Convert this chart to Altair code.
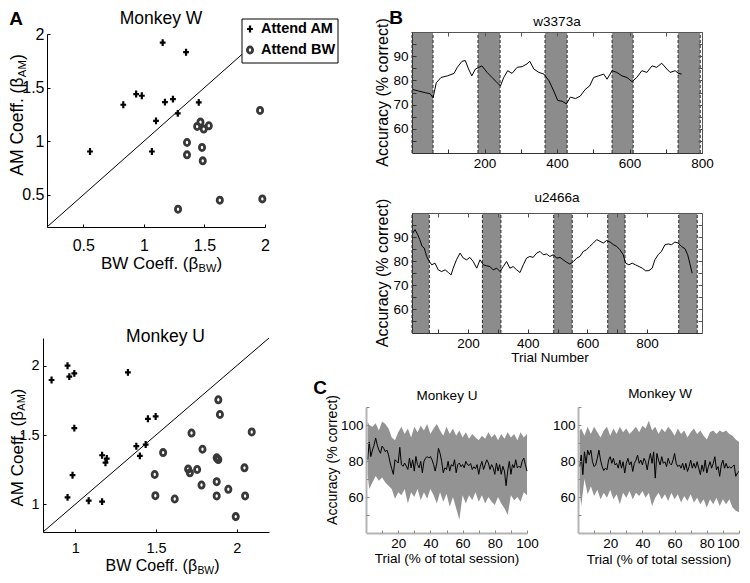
import altair as alt
import pandas as pd

W, H = 734, 567
M = 8


def P(v):
    return v - M


FONT = "Liberation Sans, Arial, sans-serif"

# ---------------- Panel A data ----------------
w_am_bw = [0.555, 0.83, 0.936, 0.983, 1.155, 1.348, 1.174, 1.24, 1.10, 1.28, 1.066, 1.453]
w_am_am = [0.904, 1.34, 1.44, 1.424, 1.92, 1.83, 1.365, 1.393, 1.19, 1.26, 0.904, 1.362]
w_bw_bw = [1.959, 1.44, 1.467, 1.494, 1.536, 1.356, 1.356, 1.48, 1.486, 1.282, 1.627, 1.978]
w_bw_am = [1.287, 1.138, 1.178, 1.113, 1.144, 0.988, 0.873, 0.942, 0.817, 0.366, 0.45, 0.462]

u_am_bw = [0.853, 0.952, 0.963, 0.994, 1.326, 0.994, 0.983, 0.952, 1.083, 1.166, 1.166, 1.195,
           1.187, 1.45, 1.498, 1.378, 1.436, 1.40]
u_am_am = [1.897, 2.0, 1.921, 1.945, 1.952, 1.55, 1.21, 1.05, 1.026, 1.019, 1.354, 1.33,
           1.30, 1.617, 1.634, 1.419, 1.431, 1.349]
u_bw_bw = [1.886, 1.896, 2.093, 1.72, 1.788, 1.544, 1.876, 1.886, 1.699, 1.710, 1.755, 1.492,
           2.048, 1.782, 1.876, 1.948, 1.496, 1.616, 1.876, 2.052, 1.994]
u_bw_am = [1.754, 1.648, 1.522, 1.514, 1.397, 1.373, 1.335, 1.323, 1.254, 1.227, 1.251, 1.215,
           1.263, 1.139, 1.163, 1.108, 1.062, 1.038, 1.06, 1.06, 0.911]

diag_w = [0.2, 2.0]
diag_u = [0.8, 2.2]

# ---------------- Panel B data ----------------
b1_x = [0, 18, 37, 50, 58, 67, 80, 98, 116, 125, 138, 147, 156, 165, 175, 193, 207, 221, 235, 244,
        253, 264, 276, 290, 304, 317, 325, 336, 350, 364, 378, 391, 402, 414, 426, 437, 451, 464, 478, 490,
        501, 515, 529, 538, 552, 565, 579, 593, 607, 620, 634, 648, 662, 675, 689, 703, 712, 726, 735, 744]
b1_y = [76.3, 75.6, 74.9, 74.5, 72.8, 79, 81.2, 81.9, 82.9, 85.4, 87.9, 88.2, 84.7, 81.9, 84.7, 86, 83.3, 81.2, 79, 77.7,
        81.2, 84, 82.9, 85.4, 85.7, 86.8, 87.9, 84.7, 83.3, 82.6, 79.8, 75.6, 71.7, 71.4, 70.3, 73.1, 72.5, 73.5, 76.3, 77.7,
        81.2, 81.9, 82.6, 80.5, 84, 83.3, 81.9, 81.2, 79.5, 81.2, 84, 83.3, 86, 85.4, 87.1, 84.7, 83.3, 84, 82.9, 82.6]
b1_start = [0, 182, 367, 552, 734]
b1_end = [58, 243, 428, 610, 795]

b2_x = [13, 22, 31, 38, 46, 53, 61, 69, 78, 89, 100, 111, 123, 134, 143, 150, 161, 173, 184, 195,
        206, 217, 229, 240, 251, 262, 273, 284, 296, 307, 318, 329, 340, 351, 363, 374, 385, 396, 407, 418,
        430, 441, 452, 463, 474, 486, 497, 508, 519, 530, 541, 553, 564, 575, 586, 597, 608, 620, 631, 642,
        653, 664, 676, 687, 698, 709, 720, 728, 739, 750, 761, 773, 784, 795, 806, 817, 826, 837, 848, 860,
        871, 882, 893, 904, 915, 927, 936, 943, 951]
b2_y = [91.3, 93.1, 91, 88.9, 86.1, 85.4, 81.9, 80, 78.4, 79.1, 76.3, 75.6, 76.3, 75.2, 74.2, 77, 80.5, 83.3, 81.2, 80.5,
        81.5, 79.8, 77, 80.5, 78.4, 78, 77.7, 76.3, 77, 75.6, 77.7, 79.8, 77, 77.7, 76.3, 75.2, 78.4, 81.2, 81.9, 81.5,
        83.3, 84, 82.6, 82.9, 81.9, 82.6, 81.2, 81.5, 80.5, 79.5, 78.7, 79.8, 81.2, 81.9, 84, 84.7, 86.1, 87.5, 88.9, 88.2,
        87.5, 88.5, 87.9, 86.8, 86.1, 84.7, 82.6, 79.1, 78.4, 79.1, 78.4, 77.7, 77, 75.9, 76, 77, 80.5, 82.6, 84, 86.8,
        87.1, 86.8, 87.9, 87.5, 86.1, 85.1, 82.6, 79.1, 74.9]
b2_start = [12, 248, 487, 668, 906]
b2_end = [70, 310, 549, 726, 968]

# ---------------- Panel C data ----------------
c_x = list(range(1, 101))
cu_mean = [80.7, 90.6, 82.5, 86.1, 88.8, 92.8, 88.8, 86.1, 84.3, 88.3,
           87, 85.2, 86.1, 83.4, 78.9, 75.7, 72.6, 80.7, 79.8, 78.9,
           87.6, 78, 77.1, 78.9, 77.1, 75.3, 81.6, 76.2, 80.7, 74.4,
           82.5, 78, 76.2, 79.8, 73.5, 79.8, 81.6, 82.5, 81.6, 82.5,
           80.7, 78, 74.4, 78.9, 87, 84.3, 79.8, 73.5, 76.2, 75.3,
           79.8, 74.4, 78, 77.1, 80.7, 73.5, 78, 78.9, 76.8, 78,
           76.2, 79.8, 78, 77.5, 78.6, 75.3, 76.8, 75.7, 78, 72.6,
           77.1, 79.8, 75.3, 78, 80.7, 78.9, 75.3, 78, 76.2, 72.6,
           78.9, 74.4, 78, 72.6, 77.1, 74.4, 66.3, 74.4, 79.8, 72.6,
           78, 76.2, 80.7, 76.2, 77.1, 76.2, 79.8, 81.6, 78, 74.4]
cw_mean = [76.9, 83.3, 72.4, 85.1, 78.7, 86, 83.3, 86, 79.6, 76.9,
           77.8, 81.5, 86, 80.5, 76.9, 74.7, 76, 75.1, 80.5, 82.4,
           78.7, 81.5, 77.8, 78.7, 76, 80.5, 76, 79.6, 73.3, 78.7,
           81.5, 77.8, 79.6, 74.2, 78.7, 80.5, 83.3, 78.7, 80.5, 77.8,
           81.5, 79.6, 75.1, 80.5, 84.2, 78.7, 85.1, 70.5, 84.2, 80.5,
           77.8, 82.4, 78.7, 79.6, 76.9, 81.5, 78.7, 77.8, 80.5, 84.2,
           78.7, 76.9, 77.8, 76, 78.7, 75.1, 78.7, 74.2, 76.9, 80.5,
           76, 78.7, 76, 79.6, 76, 72.4, 77.8, 74.2, 80.5, 73.3,
           76.9, 79.6, 76, 78.7, 82.4, 75.1, 76.9, 71.5, 77.8, 80.5,
           76, 78.7, 76, 76.9, 76, 76.9, 77.8, 71.5, 73.3, 74.2]
band_x = [1, 2, 4, 6, 8, 10, 12, 14, 16, 18, 20, 22, 24, 26, 28, 30, 32, 34, 36, 38,
          40, 42, 44, 46, 48, 50, 52, 54, 56, 58, 60, 62, 64, 66, 68, 70, 72, 74, 76, 78,
          80, 82, 84, 86, 88, 90, 92, 94, 96, 98, 100]
cu_hi = [102, 100, 99, 101, 97, 102, 100.5, 98, 93, 91.5, 96, 99, 95, 98, 93, 99, 96, 99.6, 97, 100.5,
         95, 98, 100.5, 97, 94, 99, 95, 98, 94, 97, 93, 96, 92.4, 95, 93, 91.5, 94, 92.4, 96, 93,
         95, 91.5, 95, 92.4, 96, 93, 95, 91.5, 96, 93, 95]
cu_lo = [72.6, 64.5, 68, 71.7, 69, 70.8, 68, 66.3, 64.5, 59, 62.7, 61, 64.5, 56.4, 62.7, 60, 64.5, 58.2, 62.7, 59,
         64.5, 61, 56.4, 62.7, 57.3, 61.8, 54.6, 60, 53.7, 47.4, 61, 56.4, 61, 58.2, 62.7, 57.3, 61, 56.4, 60, 57.3,
         55.5, 60, 56.4, 53.7, 50, 61, 58.2, 60, 57.3, 62.7, 61]
cw_hi = [97, 98, 94, 99, 95, 99, 96, 93, 97, 99, 94, 98, 95, 99, 96, 98, 95, 97, 99, 96,
         99.6, 98, 102.4, 97, 99, 95, 98, 96, 99, 97, 94, 98, 95, 97, 93, 96, 98, 95, 97, 94,
         92, 96, 97, 95, 97, 96, 97, 95, 94, 92, 90.5]
cw_lo = [64, 55, 70, 61.5, 66, 60.5, 64, 58.7, 62.4, 59.6, 64, 58.7, 61.5, 56, 62.4, 59.6, 63.3, 58.7, 62.4, 60.5,
         63.3, 59.6, 62.4, 55, 59.6, 62.4, 58.7, 61.5, 57.8, 62.4, 58.7, 61.5, 56.9, 60.5, 57.8, 61.5, 56.9, 59.6, 56, 58.7,
         54.2, 58.7, 56, 59.6, 55, 58.7, 56, 58.7, 54.2, 52.4, 51.5]

# ---------------- helpers ----------------
CROSS = "M-0.42,-0.16H-0.16V-0.5H0.16V-0.16H0.42V0.16H0.16V0.5H-0.16V0.16H-0.42Z"
ELLIPSE = "M0,-0.5A0.42,0.5 0 1,1 0,0.5A0.42,0.5 0 1,1 0,-0.5Z"
CROSS_SIZE = 190
CIRC_SIZE = 155
CIRC_W = 2.8
CIRC_COLOR = "#383838"

# approximate Arial / Liberation Sans advance widths (em)
AW = {"A": .667, "B": .667, "C": .722, "M": .833, "W": .944, " ": .278, "o": .556, "e": .556,
      "f": .278, ".": .278, "(": .333, ")": .333, "\u03b2": .576}


def tw(s, size):
    return sum(AW[c] for c in s) * size


def sc(dom, rng):
    return alt.Scale(domain=dom, range=[P(rng[0]), P(rng[1])], nice=False, zero=False)


def axis_layer(ch, dom, rng, pos, orient, values, labels=False, ticks=False, domain=False,
               tick_size=4, color="black", width=1, label_size=14, pad=4, flush=False):
    if orient == "bottom":
        off = P(pos) - H
    elif orient == "top":
        off = -P(pos)
    elif orient == "left":
        off = -P(pos)
    else:
        off = P(pos) - W
    kw = dict(orient=orient, offset=off, title=None, grid=False, labels=labels, ticks=ticks,
              domain=domain, labelFlush=flush, labelOverlap=False, zindex=1, values=values,
              tickSize=tick_size if ticks else 0)
    if labels:
        kw.update(labelFont=FONT, labelFontSize=label_size, labelColor="black", labelPadding=pad,
                  labelExpr="'' + datum.value")
    if ticks:
        kw.update(tickColor=color, tickWidth=1)
    if domain:
        kw.update(domainColor=color, domainWidth=width)
    df = pd.DataFrame({"v": dom})
    if ch == "x":
        enc = {"x": alt.X("v:Q", scale=sc(dom, rng), axis=alt.Axis(**kw))}
    else:
        enc = {"y": alt.Y("v:Q", scale=sc(dom, rng), axis=alt.Axis(**kw))}
    return alt.Chart(df).mark_point(opacity=0).encode(**enc)


def text(x, y, s, size, angle=0, weight="normal", align="center"):
    return alt.Chart(pd.DataFrame({"t": [s]})).mark_text(
        fontSize=size, font=FONT, angle=angle, fontWeight=weight, align=align,
        baseline="middle", color="black").encode(
        x=alt.value(P(x)), y=alt.value(P(y)), text="t:N")


layers = []

# ================= Panel A =================
XA1 = ([0.2, 2.0], (47, 265))
YA1 = ([0.2, 2.0], (227, 34))
XA2 = ([0.8, 2.2], (43, 269))
YA2 = ([0.8, 2.2], (532, 338))


def scatter_panel(sx, sy, diag, am_bw, am_am, bw_bw, bw_am):
    out = []
    out.append(alt.Chart(pd.DataFrame({"x": diag, "y": diag})).mark_line(
        color="black", strokeWidth=1).encode(
        x=alt.X("x:Q", scale=sc(*sx), axis=None), y=alt.Y("y:Q", scale=sc(*sy), axis=None)))
    out.append(alt.Chart(pd.DataFrame({"x": am_bw, "y": am_am})).mark_point(
        shape=CROSS, filled=True, color="black", size=CROSS_SIZE, opacity=1).encode(
        x=alt.X("x:Q", scale=sc(*sx), axis=None), y=alt.Y("y:Q", scale=sc(*sy), axis=None)))
    out.append(alt.Chart(pd.DataFrame({"x": bw_bw, "y": bw_am})).mark_point(
        shape=ELLIPSE, filled=False, color=CIRC_COLOR, strokeWidth=CIRC_W, size=CIRC_SIZE, opacity=1).encode(
        x=alt.X("x:Q", scale=sc(*sx), axis=None), y=alt.Y("y:Q", scale=sc(*sy), axis=None)))
    return out


layers += scatter_panel(XA1, YA1, diag_w, w_am_bw, w_am_am, w_bw_bw, w_bw_am)
layers += scatter_panel(XA2, YA2, diag_u, u_am_bw, u_am_am, u_bw_bw, u_bw_am)

# legend (panel A top)
layers.append(alt.Chart(pd.DataFrame({"k": [0]})).mark_rect(
    fill="white", stroke="black", strokeWidth=1).encode(
    x=alt.value(P(242)), x2=alt.value(P(338)), y=alt.value(P(19)), y2=alt.value(P(63))))
layers.append(alt.Chart(pd.DataFrame({"k": [0]})).mark_point(
    shape=CROSS, filled=True, color="black", size=CROSS_SIZE, opacity=1).encode(
    x=alt.value(P(250)), y=alt.value(P(29))))
layers.append(alt.Chart(pd.DataFrame({"k": [0]})).mark_point(
    shape=ELLIPSE, filled=False, color=CIRC_COLOR, strokeWidth=CIRC_W, size=CIRC_SIZE, opacity=1).encode(
    x=alt.value(P(250)), y=alt.value(P(50))))
layers.append(text(261, 29, "Attend AM", 14.5, weight="bold", align="left"))
layers.append(text(261, 50, "Attend BW", 14.5, weight="bold", align="left"))

# axes panel A
for (sx, sy, xb, yl, fs, xpad, ypad, xv, yv) in [
    (XA1, YA1, 227, 47, 16, 10, 3, [0.5, 1, 1.5, 2], [0.5, 1, 1.5, 2]),
    (XA2, YA2, 532, 43, 14.5, 9, 4, [1, 1.5, 2], [1, 1.5, 2]),
]:
    layers.append(axis_layer("x", sx[0], sx[1], xb, "bottom", xv, labels=True, domain=True,
                             label_size=fs, pad=xpad))
    layers.append(axis_layer("x", sx[0], sx[1], xb, "top", xv, ticks=True, tick_size=3))
    layers.append(axis_layer("y", sy[0], sy[1], yl, "left", yv, labels=True, domain=True,
                             label_size=fs, pad=ypad))
    layers.append(axis_layer("y", sy[0], sy[1], yl, "right", yv, ticks=True, tick_size=3))

# panel A texts
layers.append(text(16, 19, "A", 19, weight="bold"))
layers.append(text(161, 19, "Monkey W", 17.5))
layers.append(text(165.5, 337, "Monkey U", 17.5))
for cx, cy, fs in [(161.5, 264, 17), (162.5, 566, 16)]:
    main = "BW Coeff. (\u03b2"
    sub_fs = fs * 0.65
    mw = tw(main, fs)
    sw = tw("BW", sub_fs)
    tot = mw + sw + tw(")", fs)
    x0 = cx - tot / 2
    layers.append(text(x0, cy, main, fs, align="left"))
    layers.append(text(x0 + mw, cy + 4.5, "BW", sub_fs, align="left"))
    layers.append(text(x0 + mw + sw, cy, ")", fs, align="left"))
for cy, fs, cx in [(115, 17.5, 17.8), (447.5, 17, 17.5)]:
    main = "AM Coeff. (\u03b2"
    sub_fs = fs * 0.65
    mw = tw(main, fs)
    sw = tw("AM", sub_fs)
    tot = mw + sw + tw(")", fs)
    y0 = cy + tot / 2
    layers.append(text(cx, y0, main, fs, angle=270, align="left"))
    layers.append(text(cx + fs * 0.27, y0 - mw, "AM", sub_fs, angle=270, align="left"))
    layers.append(text(cx, y0 - mw - sw, ")", fs, angle=270, align="left"))

# ================= Panel B =================
XB1 = ([0, 800], (412, 702))
YB1 = ([50, 100], (153, 32))
XB2 = ([12, 984], (412, 702))
YB2 = ([50, 100], (333, 213))

for sx, sy, xs, ys, st, en in [(XB1, YB1, b1_x, b1_y, b1_start, b1_end),
                               (XB2, YB2, b2_x, b2_y, b2_start, b2_end)]:
    layers.append(alt.Chart(pd.DataFrame({"s": st, "e": en})).mark_rect(color="#8c8c8c").encode(
        x=alt.X("s:Q", scale=sc(*sx), axis=None), x2="e:Q",
        y=alt.Y(datum=50, type="quantitative", scale=sc(*sy), axis=None), y2=alt.Y2(datum=100)))
    layers.append(alt.Chart(pd.DataFrame({"x": st + en})).mark_rule(
        color="#2a2a2a", strokeWidth=1, strokeDash=[3, 2]).encode(
        x=alt.X("x:Q", scale=sc(*sx), axis=None),
        y=alt.Y(datum=50, type="quantitative", scale=sc(*sy), axis=None), y2=alt.Y2(datum=100)))
    layers.append(alt.Chart(pd.DataFrame({"x": xs, "y": ys})).mark_line(
        color="black", strokeWidth=1).encode(
        x=alt.X("x:Q", scale=sc(*sx), axis=None), y=alt.Y("y:Q", scale=sc(*sy), axis=None)))

xt_b = [100, 200, 300, 400, 500, 600, 700, 800]
yt_b = [55, 60, 65, 70, 75, 80, 85, 90, 95]
for sx, sy in [(XB1, YB1), (XB2, YB2)]:
    yb = sy[1][0]
    yt = sy[1][1]
    xl = sx[1][0]
    xr = sx[1][1]
    layers.append(axis_layer("x", sx[0], sx[1], yb, "bottom", [200, 400, 600, 800], labels=True,
                             domain=True, color="#333", label_size=13.5, pad=3))
    layers.append(axis_layer("x", sx[0], sx[1], yb, "top", xt_b, ticks=True, tick_size=4, color="#333"))
    layers.append(axis_layer("x", sx[0], sx[1], yt, "bottom", xt_b, ticks=True, domain=True,
                             tick_size=4, color="#555"))
    layers.append(axis_layer("y", sy[0], sy[1], xl, "left", [60, 70, 80, 90], labels=True,
                             domain=True, color="#333", label_size=13.5, pad=4))
    layers.append(axis_layer("y", sy[0], sy[1], xl, "right", yt_b, ticks=True, tick_size=4, color="#333"))
    layers.append(axis_layer("y", sy[0], sy[1], xr, "left", yt_b, ticks=True, domain=True,
                             tick_size=4, color="#555"))

layers.append(text(396, 18, "B", 19, weight="bold"))
layers.append(text(557, 22, "w3373a", 13.5))
layers.append(text(557, 198, "u2466a", 13.5))
layers.append(text(550, 358, "Trial Number", 13.5))
layers.append(text(383, 92.5, "Accuracy (% correct)", 16, angle=270))
layers.append(text(383, 273, "Accuracy (% correct)", 16, angle=270))

# ================= Panel C =================
XC1 = ([0, 100], (366, 527))
XC2 = ([0, 100], (578, 739))
YC = ([40, 110], (533, 407))

for sx, mean, hi, lo in [(XC1, cu_mean, cu_hi, cu_lo), (XC2, cw_mean, cw_hi, cw_lo)]:
    layers.append(alt.Chart(pd.DataFrame({"x": band_x, "lo": lo, "hi": hi})).mark_area(
        color="#939393", opacity=1).encode(
        x=alt.X("x:Q", scale=sc(*sx), axis=None),
        y=alt.Y("lo:Q", scale=sc(*YC), axis=None), y2="hi:Q"))
    layers.append(alt.Chart(pd.DataFrame({"x": c_x, "y": mean})).mark_line(
        color="black", strokeWidth=1).encode(
        x=alt.X("x:Q", scale=sc(*sx), axis=None), y=alt.Y("y:Q", scale=sc(*YC), axis=None)))

xt_c = [10, 20, 30, 40, 50, 60, 70, 80, 90, 100]
yt_c = [50, 60, 70, 80, 90, 100, 110]
for sx, fl in [(XC1, False), (XC2, True)]:
    xl = sx[1][0]
    layers.append(axis_layer("x", sx[0], sx[1], 533, "bottom", [20, 40, 60, 80, 100], labels=True,
                             domain=True, color="#b4b4b4", width=2, label_size=13.5, pad=3, flush=fl))
    layers.append(axis_layer("x", sx[0], sx[1], 533, "top", xt_c, ticks=True, tick_size=3, color="#888"))
    layers.append(axis_layer("y", YC[0], YC[1], xl, "left", [60, 80, 100], labels=True,
                             domain=True, color="#b4b4b4", width=2, label_size=13.5, pad=3))
    layers.append(axis_layer("y", YC[0], YC[1], xl, "right", yt_c, ticks=True, tick_size=3, color="#888"))

layers.append(text(320, 388, "C", 19, weight="bold"))
layers.append(text(447, 396, "Monkey U", 13.5))
layers.append(text(660, 394, "Monkey W", 13.5))
layers.append(text(447, 559, "Trial (% of total session)", 13.5))
layers.append(text(659, 560, "Trial (% of total session)", 13.5))
layers.append(text(333, 460, "Accuracy (% correct)", 14, angle=270))

chart = alt.layer(*layers).properties(
    width=W, height=H, padding=0, background="white",
    autosize=alt.AutoSizeParams(type="none"),
).resolve_scale(x="independent", y="independent").resolve_axis(
    x="independent", y="independent").configure_view(stroke=None)

chart.save("out.html", embed_options={"renderer": "svg", "actions": False})
